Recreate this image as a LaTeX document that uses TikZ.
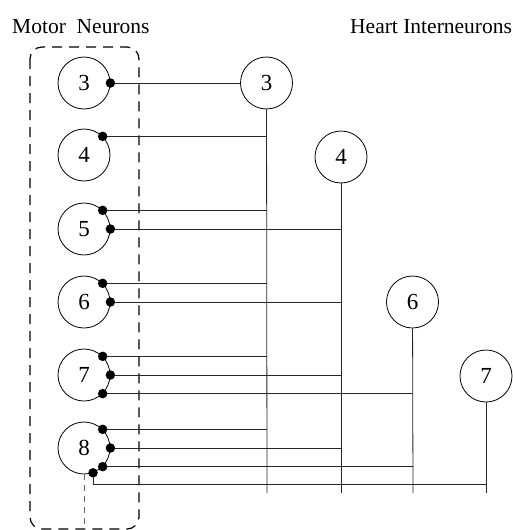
\documentclass[tikz,border=0pt]{standalone}
\usepackage{fontspec}
\setmainfont{Liberation Serif}
\begin{document}
\begin{tikzpicture}[x=1pt,y=-1pt,
  neuron/.style={circle,draw,line width=0.8pt,minimum size=52pt,inner sep=0pt,
    font=\fontsize{23}{25}\selectfont},
  syn/.style={circle,fill,inner sep=0pt,minimum size=9.5pt},
  wire/.style={line width=0.8pt,draw=black!85},
  groupbox/.style={line width=1.2pt,dash pattern=on 10pt off 7pt,rounded corners=12pt},
  axon/.style={line width=0.7pt,draw=black!60,dash pattern=on 6pt off 5pt},
  heading/.style={anchor=base west,inner sep=0pt,font=\fontsize{21.5}{24}\selectfont}]
\useasboundingbox (0,0) rectangle (512,530);

% headings
\node[heading] (lm) at (12,33) {Motor\ \ Neurons};
\node[heading] (lh) at (350,33) {Heart Interneurons};

% motor neuron group
\draw[groupbox] (30,47) rectangle (139,529);

% motor neurons
\node[neuron] (m3) at (84,83) {3};
\node[neuron] (m4) at (84,155) {4};
\node[neuron] (m5) at (84,229) {5};
\node[neuron] (m6) at (84,302) {6};
\node[neuron] (m7) at (84,375) {7};
\node[neuron] (m8) at (84,448) {8};

% heart interneurons
\node[neuron] (h3) at (266.5,83) {3};
\node[neuron] (h4) at (341,157) {4};
\node[neuron] (h6) at (412.5,302) {6};
\node[neuron] (h7) at (486,376) {7};

% ends of the interneuron processes
\coordinate (b3) at (267,493);
\coordinate (b4) at (341,493);
\coordinate (b6) at (413,493);
\coordinate (b7) at (486,493);
\coordinate (k7) at (486,484);
\coordinate (ax) at (84,530);

\draw[wire] (h3) -- (b3);
\draw[wire] (h4) -- (b4);
\draw[wire] (h6) -- (b6);
\draw[wire] (h7) -- (b7);

% synaptic contacts
\coordinate (s3a) at (m3.0);
\coordinate (s4a) at (m4.45);
\coordinate (s5a) at (m5.45);
\coordinate (s5b) at (m5.0);
\coordinate (s6a) at (m6.45);
\coordinate (s6b) at (m6.0);
\coordinate (s7a) at (m7.45);
\coordinate (s7b) at (m7.0);
\coordinate (s7c) at (m7.-45);
\coordinate (s8a) at (m8.45);
\coordinate (s8b) at (m8.0);
\coordinate (s8c) at (m8.-45);
\coordinate (s8d) at (m8.-70);

\draw[wire] (s3a) -- (h3);
\draw[wire] (s4a) -- (s4a -| b3);
\draw[wire] (s5a) -- (s5a -| b3);
\draw[wire] (s5b) -- (s5b -| b4);
\draw[wire] (s6a) -- (s6a -| b3);
\draw[wire] (s6b) -- (s6b -| b4);
\draw[wire] (s7a) -- (s7a -| b3);
\draw[wire] (s7b) -- (s7b -| b4);
\draw[wire] (s7c) -- (s7c -| b6);
\draw[wire] (s8a) -- (s8a -| b3);
\draw[wire] (s8b) -- (s8b -| b4);
\draw[wire] (s8c) -- (s8c -| b6);
\draw[wire] (s8d) |- (k7);

\draw[axon] (m8) -- (ax);

\foreach \s in {s3a,s4a,s5a,s5b,s6a,s6b,s7a,s7b,s7c,s8a,s8b,s8c,s8d}
  \node[syn] at (\s) {};
\end{tikzpicture}
\end{document}
